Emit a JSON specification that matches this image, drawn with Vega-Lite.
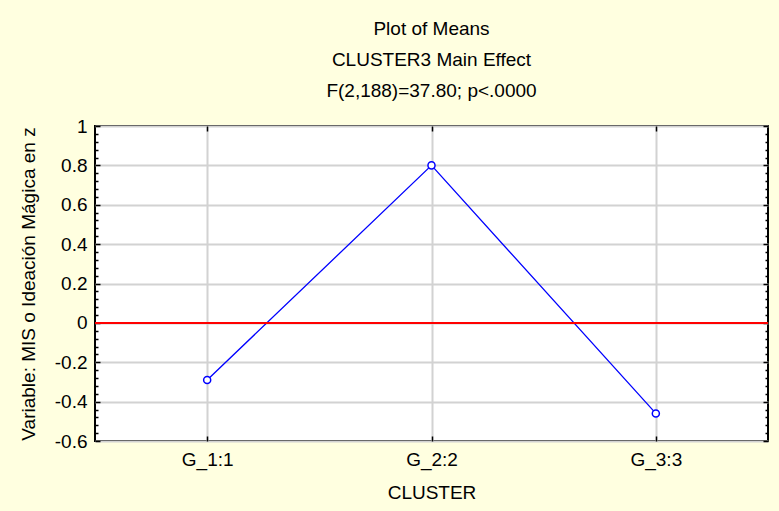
{
  "$schema": "https://vega.github.io/schema/vega-lite/v6.json",
  "width": 673,
  "height": 315,
  "autosize": {"type": "none"},
  "padding": {"left": 95, "top": 126, "right": 11, "bottom": 70},
  "background": "#FFFFE0",
  "title": {
    "text": ["Plot of Means", "CLUSTER3 Main Effect", "F(2,188)=37.80; p<.0000"],
    "font": "Liberation Sans",
    "fontSize": 19,
    "fontWeight": "normal",
    "color": "#000000",
    "lineHeight": 31,
    "anchor": "middle",
    "offset": 16
  },
  "config": {
    "view": {"fill": "#FFFFFF", "stroke": "#000000", "strokeWidth": 2},
    "axis": {
      "labelFont": "Liberation Sans",
      "labelFontSize": 19,
      "labelColor": "#000000",
      "titleFont": "Liberation Sans",
      "titleFontSize": 19,
      "titleFontWeight": "normal",
      "titleColor": "#000000",
      "domain": false,
      "tickColor": "#000000",
      "gridColor": "#d2d2d2",
      "gridWidth": 2
    }
  },
  "data": {
    "values": [
      {"cluster": "G_1:1", "mean": -0.29},
      {"cluster": "G_2:2", "mean": 0.80},
      {"cluster": "G_3:3", "mean": -0.46}
    ]
  },
  "resolve": {"axis": {"x": "independent", "y": "independent"}},
  "layer": [
    {
      "mark": {"type": "line", "color": "#0000FF", "strokeWidth": 1.3},
      "encoding": {
        "x": {
          "field": "cluster",
          "type": "nominal",
          "scale": {"type": "point", "padding": 0.5, "domain": ["G_1:1", "G_2:2", "G_3:3"]},
          "axis": {
            "orient": "bottom",
            "title": "CLUSTER",
            "labelAngle": 0,
            "grid": true,
            "tickSize": -5,
            "tickWidth": 1.5,
            "labelPadding": 14,
            "titlePadding": 14
          }
        },
        "y": {
          "field": "mean",
          "type": "quantitative",
          "scale": {"domain": [-0.6, 1], "nice": false, "zero": false},
          "axis": {
            "orient": "left",
            "title": "Variable: MIS o Ideación Mágica en z",
            "values": [-0.6, -0.56, -0.52, -0.48, -0.44, -0.4, -0.36, -0.32, -0.28, -0.24, -0.2, -0.16, -0.12, -0.08, -0.04, 0, 0.04, 0.08, 0.12, 0.16, 0.2, 0.24, 0.28, 0.32, 0.36, 0.4, 0.44, 0.48, 0.52, 0.56, 0.6, 0.64, 0.68, 0.72, 0.76, 0.8, 0.84, 0.88, 0.92, 0.96, 1],
            "labelExpr": "abs(datum.value * 5 - round(datum.value * 5)) < 0.001 ? '' + datum.value : ''",
            "grid": true,
            "gridOpacity": {"condition": {"test": "abs(datum.value * 5 - round(datum.value * 5)) < 0.001", "value": 1}, "value": 0},
            "tickSize": {"condition": {"test": "abs(datum.value * 5 - round(datum.value * 5)) < 0.001", "value": -5}, "value": -3},
            "tickWidth": 1.5,
            "labelPadding": 13,
            "labelBound": false,
            "labelOverlap": false,
            "titlePadding": 16
          }
        }
      }
    },
    {
      "data": {"values": [{"ref": 0}]},
      "mark": {"type": "rule", "color": "#FF0000", "strokeWidth": 2},
      "encoding": {
        "y": {"field": "ref", "type": "quantitative", "axis": null}
      }
    },
    {
      "mark": {"type": "point", "shape": "circle", "filled": false, "fill": "#FFFFFF", "fillOpacity": 1, "color": "#0000FF", "strokeWidth": 1.5, "size": 50, "opacity": 1},
      "encoding": {
        "x": {
          "field": "cluster",
          "type": "nominal",
          "axis": {"orient": "top", "title": null, "labels": false, "grid": false, "tickSize": -5, "tickWidth": 1.5}
        },
        "y": {
          "field": "mean",
          "type": "quantitative",
          "axis": {
            "orient": "right",
            "title": null,
            "labels": false,
            "grid": false,
            "values": [-0.6, -0.56, -0.52, -0.48, -0.44, -0.4, -0.36, -0.32, -0.28, -0.24, -0.2, -0.16, -0.12, -0.08, -0.04, 0, 0.04, 0.08, 0.12, 0.16, 0.2, 0.24, 0.28, 0.32, 0.36, 0.4, 0.44, 0.48, 0.52, 0.56, 0.6, 0.64, 0.68, 0.72, 0.76, 0.8, 0.84, 0.88, 0.92, 0.96, 1],
            "tickSize": {"condition": {"test": "abs(datum.value * 5 - round(datum.value * 5)) < 0.001", "value": -5}, "value": -3},
            "tickWidth": 1.5
          }
        }
      }
    }
  ]
}
